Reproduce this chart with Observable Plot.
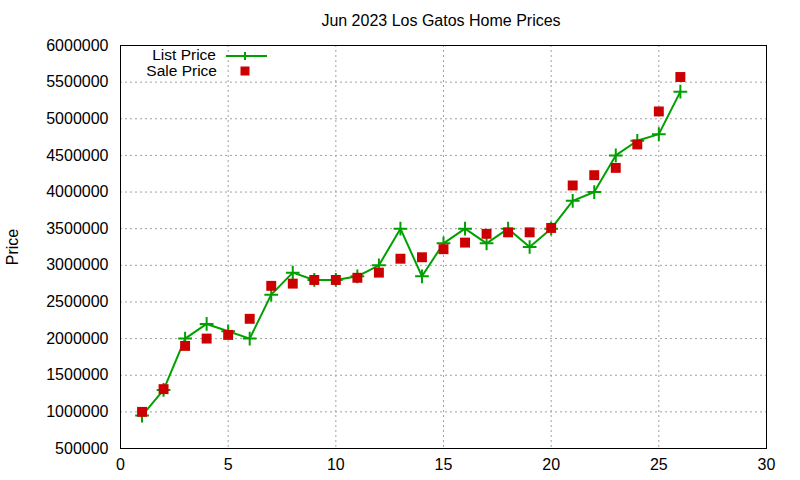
<!DOCTYPE html>
<html><head><meta charset="utf-8">
<script src="https://cdn.jsdelivr.net/npm/d3@7"></script>
<script src="https://cdn.jsdelivr.net/npm/@observablehq/plot@0.6"></script>
<style>body{margin:0;background:#fff;font-family:"Liberation Sans",Arial,sans-serif}</style>
</head><body><div id="chart"></div>
<script>
const idx = [1,2,3,4,5,6,7,8,9,10,11,12,13,14,15,16,17,18,19,20,21,22,23,24,25,26];
const listPrice = [950000,1300000,2000000,2200000,2100000,2000000,2600000,2900000,2800000,2800000,2850000,3000000,3500000,2850000,3300000,3500000,3300000,3500000,3250000,3500000,3880000,4000000,4500000,4700000,4790000,5370000];
const salePrice = [1000000,1310000,1900000,2000000,2050000,2270000,2720000,2750000,2800000,2800000,2830000,2900000,3090000,3110000,3220000,3310000,3430000,3450000,3450000,3510000,4090000,4230000,4330000,4650000,5100000,5570000];
const xTicks = [0,5,10,15,20,25,30];
const yTicks = [500000,1000000,1500000,2000000,2500000,3000000,3500000,4000000,4500000,5000000,5500000,6000000];
const title = "Jun 2023 Los Gatos Home Prices";
const yLabel = "Price";
const seriesNames = ["List Price","Sale Price"];

const listData = idx.map((d,i)=>({x:d,y:listPrice[i]}));
const saleData = idx.map((d,i)=>({x:d,y:salePrice[i]}));

const green = "#00a000", red = "#cc0000";
const plot = Plot.plot({
  width: 800, height: 480,
  marginLeft: 120, marginRight: 34, marginTop: 45, marginBottom: 32,
  style: {fontFamily: '"Liberation Sans", Arial, sans-serif', fontSize: "16px", color: "#000", background: "#fff"},
  x: {domain: [0,30], label: null},
  y: {domain: [500000,6000000], label: null},
  marks: [
    Plot.gridX(xTicks, {stroke: "#a0a0a0", strokeOpacity: 1, strokeDasharray: "2,3"}),
    Plot.gridY(yTicks, {stroke: "#a0a0a0", strokeOpacity: 1, strokeDasharray: "2,3"}),
    Plot.axisX(xTicks, {tickSize: 0, tickPadding: 10, fontSize: 16, tickFormat: d=>String(d)}),
    Plot.axisY(yTicks, {tickSize: 0, tickPadding: 12, fontSize: 16, tickFormat: d=>String(d)}),
    Plot.frame({stroke: "#000", strokeWidth: 1}),
    Plot.line(listData, {x:"x", y:"y", stroke: green, strokeWidth: 2}),
    Plot.dot(listData, {x:"x", y:"y", symbol: "plus", stroke: green, strokeWidth: 2, r: 4.5}),
    Plot.dot(saleData, {x:"x", y:"y", symbol: "square", fill: red, stroke: "none", r: 5.6})
  ]
});
document.getElementById("chart").appendChild(plot);

const svg = d3.select(plot);
const font = '"Liberation Sans", Arial, sans-serif';
svg.append("text").attr("x", 441).attr("y", 26).attr("text-anchor","middle")
  .attr("font-family", font).attr("font-size", 16).attr("fill","#000").text(title);
svg.append("text").attr("transform","translate(18,247) rotate(-90)").attr("text-anchor","middle")
  .attr("font-family", font).attr("font-size", 16).attr("fill","#000").text(yLabel);
// legend
svg.append("text").attr("x", 216).attr("y", 60).attr("text-anchor","end")
  .attr("font-family", font).attr("font-size", 15.5).attr("fill","#000").text(seriesNames[0]);
svg.append("text").attr("x", 217).attr("y", 76).attr("text-anchor","end")
  .attr("font-family", font).attr("font-size", 15.5).attr("fill","#000").text(seriesNames[1]);
svg.append("line").attr("x1",226).attr("x2",267).attr("y1",56).attr("y2",56).attr("stroke",green).attr("stroke-width",2);
svg.append("path").attr("d","M241,56h8M245,52v8").attr("stroke",green).attr("stroke-width",2);
svg.append("rect").attr("x",240.5).attr("y",66.5).attr("width",9).attr("height",9).attr("fill",red);
</script></body></html>
